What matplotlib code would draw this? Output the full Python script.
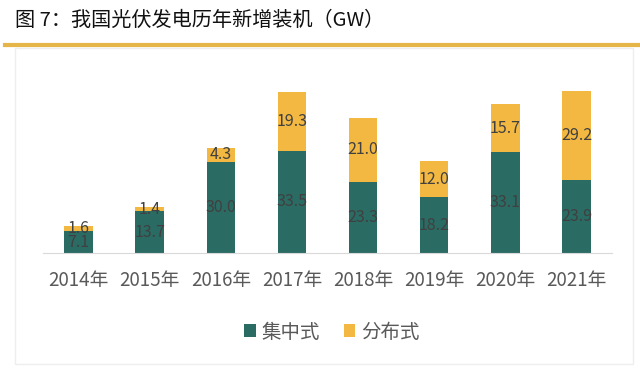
import matplotlib.pyplot as plt
from matplotlib.patches import Rectangle
from matplotlib.lines import Line2D

plt.rcParams['font.family'] = ['Noto Sans CJK SC', 'DejaVu Sans']

# data
years = ['2014年', '2015年', '2016年', '2017年', '2018年', '2019年', '2020年', '2021年']
centralized = [7.1, 13.7, 30.0, 33.5, 23.3, 18.2, 33.1, 23.9]
distributed = [1.6, 1.4, 4.3, 19.3, 21.0, 12.0, 15.7, 29.2]

teal = '#2A6B64'
gold = '#F2B842'
txt = '#404040'

fig = plt.figure(figsize=(6.4, 3.68), dpi=100)

# title + gold rule
fig.text(15 / 640, 1 - 20 / 368, '图 7：我国光伏发电历年新增装机（GW）', fontsize=14.5,
         color='#111111', va='center', ha='left')
fig.add_artist(Line2D([5 / 640, 1], [1 - 45 / 368] * 2, color='#E5B54A', lw=3))
# faint frame around chart area
fig.add_artist(Rectangle((15 / 640, 1 - 364 / 368), 618 / 640, 316 / 368,
                         fill=False, ec='#EEEEEE', lw=1))

ax = fig.add_axes([43 / 640, 115 / 368, 569 / 640, 183 / 368])
x = range(len(years))
w = 0.40
ax.bar(x, centralized, w, color=teal, label='集中式', zorder=2)
ax.bar(x, distributed, w, bottom=centralized, color=gold, label='分布式', zorder=2)

for i in x:
    c = centralized[i]
    d = distributed[i]
    ax.text(i, c / 2, f'{c:.1f}', ha='center', va='center', fontsize=11.5, color=txt)
    ax.text(i, c + d / 2, f'{d:.1f}', ha='center', va='center', fontsize=11.5, color=txt)

ax.set_xlim(-0.5, 7.5)
ax.set_ylim(0, 60)
ax.set_yticks([])
ax.set_xticks(list(x))
ax.set_xticklabels(years, fontsize=13.5, color='#595959')
ax.tick_params(axis='x', length=0, pad=12)
for s in ['top', 'right', 'left']:
    ax.spines[s].set_visible(False)
ax.spines['bottom'].set_color('#D9D9D9')

fig.legend(loc='center', bbox_to_anchor=(332 / 640, 1 - 332 / 368), ncol=2, frameon=False,
           fontsize=14, handlelength=0.6, handleheight=0.6, columnspacing=1.2,
           handletextpad=0.3, labelcolor='#595959')

fig.savefig('out.png', dpi=100)
